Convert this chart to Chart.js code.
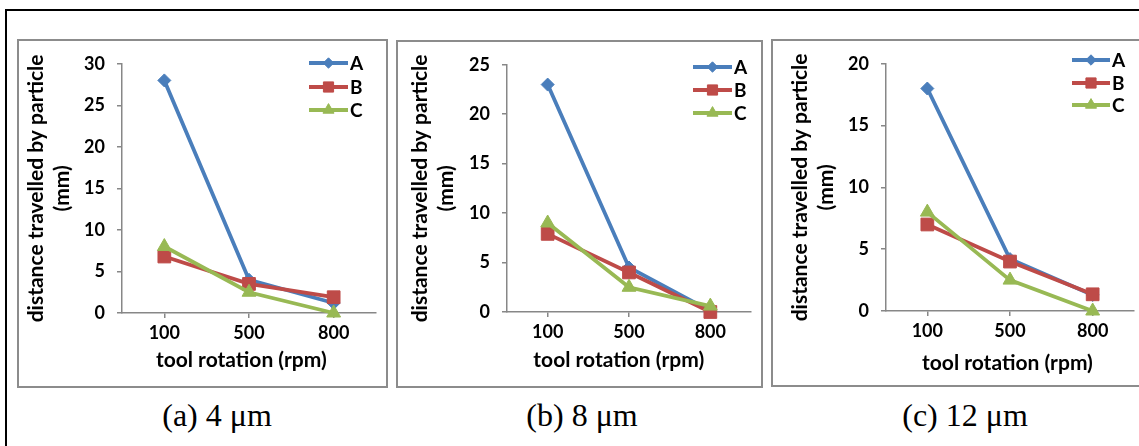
<!DOCTYPE html>
<html lang="en">
  <head>
    <meta charset="UTF-8" />
    <title>distance travelled by particle</title>
    <script src="https://cdn.jsdelivr.net/npm/chart.js@4.4.1/dist/chart.umd.min.js"></script>
    <style>
      html, body {
        margin: 0;
        padding: 0;
        background: #fff;
        overflow: hidden;
        width: 1139px;
        height: 446px;
      }
      #frame {
        position: absolute;
        left: 5px;
        top: 9px;
        width: 1200px;
        height: 440px;
        border-left: 2px solid #000;
        border-top: 2px solid #000;
      }
      .panel {
        position: absolute;
        border: 2px solid #8c8c8c;
        background: #fff;
      }
      .panel canvas {
        display: block;
      }
      .caption {
        position: absolute;
        top: 396px;
        width: 200px;
        margin-left: -100px;
        text-align: center;
        font-family: 'Liberation Serif', 'Times New Roman', serif;
        font-size: 32px;
        line-height: 38px;
        color: #000;
      }
    </style>
  </head>
  <body>
    <div id="frame"></div>
    <div class="panel" style="left: 17px; top: 39px; width: 367px; height: 345px">
      <canvas id="chartA" width="367" height="345"></canvas>
    </div>
    <div class="panel" style="left: 396px; top: 40px; width: 363px; height: 344px">
      <canvas id="chartB" width="363" height="344"></canvas>
    </div>
    <div class="panel" style="left: 771px; top: 39px; width: 371px; height: 344px">
      <canvas id="chartC" width="371" height="344"></canvas>
    </div>
    <div class="caption" style="left: 217px">(a) 4 μm</div>
    <div class="caption" style="left: 582px">(b) 8 μm</div>
    <div class="caption" style="left: 965px">(c) 12 μm</div>

    <script>
      // tool rotation categories (rpm)
      const rotations = ['100', '500', '800']
      const seriesNames = ['A', 'B', 'C']

      // (a) 4 um particle
      const a4um = [28, 4, 1.2]
      const b4um = [6.8, 3.5, 1.9]
      const c4um = [8, 2.5, 0]

      // (b) 8 um particle
      const a8um = [23, 4.5, 0.1]
      const b8um = [7.9, 4, 0]
      const c8um = [9, 2.5, 0.6]

      // (c) 12 um particle
      const a12um = [18, 4.2, 1.3]
      const b12um = [7, 4, 1.35]
      const c12um = [8, 2.5, 0]

      const yMax = [30, 25, 20]
      const yStep = 5

      const colors = ['#4a7ebb', '#be4b48', '#98b954']
      const markers = ['rectRot', 'rect', 'triangle']
      const markerRadius = [6.5, 9, 8]

      const family = 'Lato, "Open Sans", sans-serif'
      const tickFont = { family: family, size: 18, weight: 'bold' }
      const titleFont = { family: family, size: 21, weight: 'bold' }
      const axisGray = '#878787'

      // small legend drawn inside the plot, like the Excel one
      const cornerLegend = {
        id: 'cornerLegend',
        afterDatasetsDraw(chart, args, opts) {
          const ctx = chart.ctx
          ctx.save()
          chart.data.datasets.forEach((ds, i) => {
            const y = opts.rows[i]
            ctx.strokeStyle = ds.borderColor
            ctx.lineWidth = ds.borderWidth
            ctx.beginPath()
            ctx.moveTo(opts.x1, y)
            ctx.lineTo(opts.x2, y)
            ctx.stroke()
            ctx.fillStyle = ds.pointBackgroundColor
            ctx.strokeStyle = ds.pointBorderColor
            ctx.lineWidth = 1
            Chart.helpers.drawPoint(ctx, {
              pointStyle: ds.pointStyle,
              radius: ds.pointRadius * 0.8,
              rotation: 0,
              borderWidth: 1
            }, (opts.x1 + opts.x2) / 2, y)
            ctx.fillStyle = '#000'
            ctx.font = `bold 19px ${family}`
            ctx.textAlign = 'left'
            ctx.textBaseline = 'middle'
            ctx.fillText(ds.label, opts.x2 + 2, y + 1)
          })
          ctx.restore()
        }
      }

      function makeChart(id, series, max, p) {
        // later series sit on top, as in the Excel original
        const datasets = series.map((data, i) => ({
          label: seriesNames[i],
          data: data,
          order: series.length - i,
          borderColor: colors[i],
          backgroundColor: colors[i],
          borderWidth: 3.8,
          pointStyle: markers[i],
          pointRadius: markerRadius[i],
          pointBackgroundColor: colors[i],
          pointBorderColor: colors[i],
          pointBorderWidth: 1,
          tension: 0,
          clip: false
        }))

        return new Chart(document.getElementById(id), {
          type: 'line',
          data: { labels: rotations, datasets: datasets },
          plugins: [cornerLegend],
          options: {
            responsive: false,
            animation: false,
            layout: { padding: { top: p.top, left: 0, right: 0, bottom: 0 } },
            plugins: {
              legend: { display: false },
              tooltip: { enabled: false },
              cornerLegend: p.legend
            },
            scales: {
              x: {
                offset: true,
                afterFit: s => { s.height = p.xHeight },
                border: { color: axisGray, width: 1.5 },
                grid: { display: true, offset: false, drawOnChartArea: false, tickLength: 5, color: axisGray, lineWidth: 1.5 },
                ticks: { color: '#000', font: tickFont, padding: 4 },
                title: {
                  display: true,
                  text: 'tool rotation (rpm)' + p.xTitleShift,
                  color: '#000',
                  font: titleFont,
                  padding: { top: 0, bottom: p.xTitlePad }
                }
              },
              y: {
                min: 0,
                max: max,
                afterFit: s => { s.width = p.yWidth },
                border: { color: axisGray, width: 1.5 },
                grid: { display: true, drawOnChartArea: false, tickLength: 5, color: axisGray, lineWidth: 1.5 },
                ticks: { stepSize: yStep, color: '#000', font: tickFont, padding: 12 },
                title: {
                  display: true,
                  text: ['distance travelled by particle', '(mm)'],
                  color: '#000',
                  font: { ...titleFont, lineHeight: 1.25 },
                  padding: { top: p.yTitlePad, bottom: 0 }
                }
              }
            }
          }
        })
      }

      makeChart('chartA', [a4um, b4um, c4um], yMax[0], {
        top: 16, xHeight: 73, yWidth: 103, yTitlePad: 4, xTitlePad: 13,
        xTitleShift: '\u00a0\u00a0\u00a0',
        legend: { x1: 290, x2: 329, rows: [22, 46, 69] }
      })
      makeChart('chartB', [a8um, b8um, c8um], yMax[1], {
        top: 11, xHeight: 74, yWidth: 109, yTitlePad: 9, xTitlePad: 13,
        xTitleShift: '\u00a0\u00a0\u00a0\u00a0',
        legend: { x1: 295, x2: 334, rows: [25, 48, 71] }
      })
      makeChart('chartC', [a12um, b12um, c12um], yMax[2], {
        top: 11, xHeight: 74, yWidth: 113, yTitlePad: 14, xTitlePad: 9,
        xTitleShift: '\u00a0',
        legend: { x1: 299, x2: 337, rows: [19, 42, 64] }
      })
    </script>
  </body>
</html>
